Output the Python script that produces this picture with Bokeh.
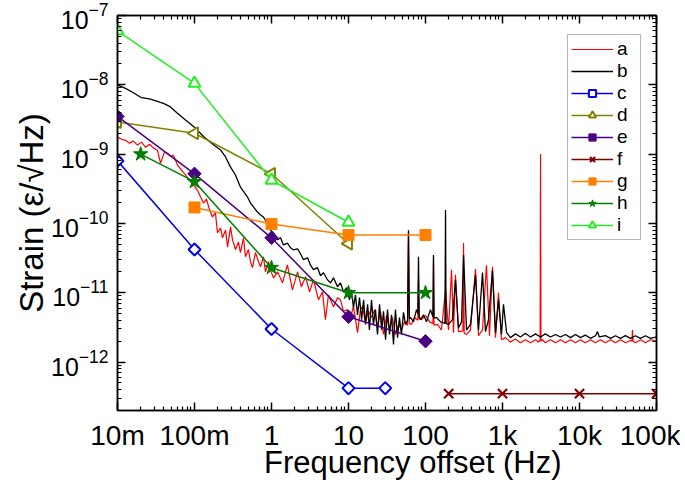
import math
from bokeh.plotting import figure
from bokeh.models import LogAxis, FixedTicker, CustomJSTickFormatter, Legend, LegendItem, Range1d
from bokeh.embed import file_html
from bokeh.resources import INLINE

# ---------------- data ----------------
x_tick_values = [0.01, 0.1, 1, 10, 100, 1000, 10000, 100000]
x_tick_labels = ["10m", "100m", "1", "10", "100", "1k", "10k", "100k"]
y_tick_values = [1e-12, 1e-11, 1e-10, 1e-9, 1e-8, 1e-7]

a_freq = [0.01, 0.0113, 0.0127, 0.0143, 0.0161, 0.0182, 0.0205, 0.0231, 0.0261, 0.0294,
          0.033, 0.0362, 0.0407, 0.0445, 0.0488, 0.0533, 0.0601, 0.0678, 0.0764, 0.0861,
          0.097, 0.109, 0.12, 0.131, 0.143, 0.157, 0.171, 0.187, 0.199, 0.218,
          0.231, 0.253, 0.269, 0.294, 0.312, 0.341, 0.372, 0.395, 0.433, 0.459,
          0.502, 0.533, 0.566, 0.619, 0.678, 0.72, 0.787, 0.835, 0.914, 0.97,
          1.06, 1.2, 1.39, 1.61, 1.87, 2.18, 2.45, 2.77, 3.12, 3.51,
          4.08, 4.59, 5.02, 5.5, 6.38, 7.2, 7.87, 8.61, 9.7, 10.6,
          11.6, 13.1, 14.3, 15.2, 16.6, 18.2, 19.9, 21.8, 23.8, 26.1,
          28.5, 31.2, 34.1, 37.2, 40.7, 44.6, 48.7, 53.3, 58.5, 60.1,
          61.7, 65.8, 71.9, 79.5, 81.1, 82.7, 88.7, 100, 113, 125,
          127, 129, 143, 161, 182, 199, 218, 231, 245, 268,
          306, 312, 318, 341, 384, 446, 488, 550, 619, 678,
          741, 811, 887, 970, 1090, 1270, 1470, 1710, 1980, 2310,
          2680, 2940, 3080, 3120, 3160, 3310, 3600, 4200, 4870, 5660,
          6570, 7640, 8870, 10300, 11900, 13900, 16100, 18700, 21700, 25300,
          29300, 34000, 39500, 46000, 48000, 48800, 49600, 53300, 61900, 71900,
          83500, 100000]
a_strain = [1.76e-9, 1.64e-9, 1.58e-9, 1.44e-9, 1.54e-9, 1.35e-9, 1.49e-9, 1.26e-9, 1.39e-9, 1.22e-9,
            1.14e-9, 7.4e-10, 1.07e-9, 1.03e-9, 9.3e-10, 9.6e-10, 6.95e-10, 5.9e-10, 5.0e-10, 4.2e-10,
            3.6e-10, 3.03e-10, 2.4e-10, 1.97e-10, 2.25e-10, 1.56e-10, 1.24e-10, 1.42e-10, 7.3e-11, 8.6e-11,
            6.2e-11, 8.0e-11, 4.6e-11, 8.9e-11, 5.8e-11, 4.2e-11, 5.4e-11, 3.8e-11, 6.2e-11, 3.3e-11,
            4.2e-11, 2.8e-11, 2.3e-11, 3.8e-11, 2.8e-11, 2.37e-11, 3.3e-11, 2.0e-11, 2.8e-11, 2.14e-11,
            1.64e-11, 2.0e-11, 1.39e-11, 2.53e-11, 1.1e-11, 2.0e-11, 1.22e-11, 1.7e-11, 1.03e-11, 1.54e-11,
            7.9e-12, 1.03e-11, 4.1e-12, 9.3e-12, 6.3e-12, 8.5e-12, 7.9e-12, 5.4e-12, 5.7e-12, 4.4e-12,
            6.3e-12, 2.66e-12, 5.7e-12, 6.3e-12, 3.7e-12, 5.4e-12, 4.4e-12, 5.7e-12, 3.15e-12, 5.4e-12,
            2.5e-12, 4.7e-12, 2.9e-12, 4.4e-12, 2.5e-12, 3.5e-12, 2.9e-12, 3.8e-12, 3.4e-12, 7.5e-11,
            3.6e-12, 3.5e-12, 4.4e-12, 4.0e-12, 1.64e-11, 4.2e-12, 4.1e-12, 4.7e-12, 3.8e-12, 3.6e-12,
            3.2e-11, 3.4e-12, 3.5e-12, 2.9e-12, 1.1e-11, 2.9e-12, 2.14e-11, 2.65e-12, 1.82e-11, 2.75e-12,
            2.8e-12, 5.2e-11, 2.6e-12, 2.5e-12, 2.9e-12, 2.2e-11, 2.4e-12, 2.9e-12, 2.5e-11, 2.4e-12,
            2.37e-11, 2.25e-12, 1.0e-11, 2.1e-12, 2.25e-12, 1.95e-12, 2.15e-12, 1.9e-12, 2.1e-12, 1.9e-12,
            2.1e-12, 1.95e-12, 2.05e-12, 1.0e-9, 2.0e-12, 2.1e-12, 1.9e-12, 2.1e-12, 1.9e-12, 2.1e-12,
            1.9e-12, 2.1e-12, 1.9e-12, 2.1e-12, 1.9e-12, 2.1e-12, 1.9e-12, 2.1e-12, 1.9e-12, 2.1e-12,
            1.9e-12, 2.1e-12, 1.9e-12, 2.05e-12, 2.0e-12, 2.9e-12, 2.0e-12, 1.9e-12, 2.1e-12, 1.9e-12,
            2.1e-12, 2.0e-12]

b_freq = [0.01, 0.0127, 0.0157, 0.020, 0.0268, 0.0395, 0.0488, 0.060, 0.0764, 0.1,
          0.131, 0.161, 0.187, 0.218, 0.253, 0.294, 0.34, 0.395, 0.446, 0.488,
          0.533, 0.583, 0.658, 0.72, 0.787, 0.887, 0.97, 1.06, 1.2, 1.31,
          1.43, 1.61, 1.77, 1.93, 2.18, 2.38, 2.6, 2.94, 3.21, 3.51,
          3.96, 4.33, 4.73, 5.33, 5.83, 6.38, 7.2, 7.87, 8.61, 9.42,
          10.3, 10.9, 11.6, 12.3, 13.1, 13.9, 14.8, 15.7, 16.6, 17.7,
          18.7, 19.9, 21.1, 22.4, 23.8, 25.3, 26.9, 28.5, 30.3, 32.1,
          34.1, 36.2, 38.4, 40.7, 43.3, 45.9, 48.7, 51.8, 55.0, 58.5,
          60.1, 61.7, 63.8, 69.8, 76.4, 79.5, 81.1, 82.7, 86.1, 94.2,
          103, 116, 125, 127, 129, 139, 157, 179, 182, 185,
          199, 224, 245, 268, 294, 312, 341, 384, 446, 488,
          550, 601, 658, 741, 811, 887, 970, 1030, 1130, 1270,
          1475, 1710, 1980, 2310, 2680, 3120, 3600, 4200, 4870, 5660,
          6570, 7640, 8870, 10300, 11900, 13900, 16100, 17100, 18100, 21700,
          25300, 29300, 34000, 39500, 45900, 53300, 61900, 71900, 83500, 100000]
b_strain = [1.0e-8, 8.9e-9, 7.8e-9, 6.6e-9, 6.2e-9, 5.4e-9, 4.8e-9, 3.9e-9, 3.1e-9, 2.45e-9,
            1.8e-9, 1.48e-9, 1.3e-9, 1.15e-9, 9.1e-10, 6.5e-10, 5.0e-10, 3.35e-10, 2.75e-10, 2.4e-10,
            1.97e-10, 1.73e-10, 1.46e-10, 1.32e-10, 1.24e-10, 9.8e-11, 8.05e-11, 7.3e-11, 5.8e-11, 6.2e-11,
            4.9e-11, 5.2e-11, 4.45e-11, 4.15e-11, 4.3e-11, 3.65e-11, 3.0e-11, 3.2e-11, 2.5e-11, 2.15e-11,
            2.3e-11, 1.76e-11, 1.94e-11, 1.54e-11, 1.39e-11, 1.64e-11, 1.22e-11, 1.39e-11, 1.03e-11, 1.18e-11,
            7.9e-12, 1.1e-11, 6.1e-12, 9.3e-12, 4.8e-12, 8.5e-12, 4.1e-12, 7.9e-12, 3.5e-12, 6.8e-12,
            2.9e-12, 7.9e-12, 3.5e-12, 5.7e-12, 2.5e-12, 6.8e-12, 2.9e-12, 5.4e-12, 2.1e-12, 5.7e-12,
            2.5e-12, 4.8e-12, 1.8e-12, 5.7e-12, 2.25e-12, 4.4e-12, 2.5e-12, 5.2e-12, 3.5e-12, 4.0e-12,
            8.0e-11, 4.2e-12, 4.4e-12, 3.8e-12, 5.7e-12, 5.0e-12, 3.3e-11, 4.6e-12, 4.1e-12, 4.8e-12,
            3.8e-12, 5.7e-12, 4.5e-12, 3.5e-11, 4.3e-12, 4.4e-12, 3.8e-12, 3.6e-12, 1.56e-10, 3.6e-12,
            3.5e-12, 4.1e-12, 1.54e-11, 3.1e-12, 3.8e-12, 3.5e-11, 2.9e-12, 3.5e-12, 1.8e-11, 2.9e-12,
            1.95e-11, 2.75e-12, 4.1e-12, 2.1e-11, 2.65e-12, 7.9e-12, 2.5e-12, 6.8e-12, 2.65e-12, 2.25e-12,
            2.55e-12, 2.3e-12, 2.6e-12, 2.3e-12, 2.55e-12, 2.3e-12, 2.55e-12, 2.3e-12, 2.5e-12, 2.3e-12,
            2.5e-12, 2.25e-12, 2.5e-12, 2.25e-12, 2.45e-12, 2.2e-12, 2.4e-12, 2.75e-12, 2.3e-12, 2.4e-12,
            2.2e-12, 2.4e-12, 2.2e-12, 2.4e-12, 2.2e-12, 2.4e-12, 2.2e-12, 2.4e-12, 2.2e-12, 2.3e-12]

c_freq = [0.01, 0.1, 1, 10, 30]
c_strain = [8.0e-10, 4.2e-11, 3.0e-12, 4.2e-13, 4.2e-13]
d_freq = [0.01, 0.1, 1, 10]
d_strain = [2.9e-9, 2.0e-9, 5.2e-10, 5.1e-11]
e_freq = [0.01, 0.1, 1, 10, 100]
e_strain = [3.5e-9, 5.2e-10, 6.2e-11, 4.5e-12, 2.0e-12]
f_freq = [200, 1000, 10000, 100000]
f_strain = [3.5e-13, 3.5e-13, 3.5e-13, 3.5e-13]
g_freq = [0.1, 1, 10, 100]
g_strain = [1.7e-10, 9.8e-11, 6.8e-11, 6.8e-11]
h_freq = [0.02, 0.1, 1, 10, 100]
h_strain = [1.0e-9, 4.0e-10, 2.3e-11, 1.0e-11, 1.0e-11]
i_freq = [0.01, 0.1, 1, 10]
i_strain = [6.0e-8, 1.05e-8, 4.2e-10, 1.04e-10]

FONT = "Liberation Sans"

p = figure(frame_width=539, frame_height=395, x_axis_type="log", y_axis_type="log",
           x_range=Range1d(0.01, 1e5), y_range=Range1d(2e-13, 1e-7),
           output_backend="svg", toolbar_location=None,
           min_border_left=117, min_border_right=24, min_border_top=15, min_border_bottom=70)
p.grid.visible = False
p.outline_line_color = "black"
p.outline_line_width = 1.5
p.background_fill_color = "white"
p.border_fill_color = "white"

x_minor = [m * d for d in x_tick_values[:-1] for m in range(2, 10)]
y_minor = [m * d for d in [1e-13] + y_tick_values[:-1] for m in range(2, 10)]
xt = FixedTicker(ticks=x_tick_values, minor_ticks=x_minor)
yt = FixedTicker(ticks=y_tick_values, minor_ticks=y_minor)

def style_axis(ax):
    ax.major_tick_in = 8
    ax.major_tick_out = 0
    ax.minor_tick_in = 4
    ax.minor_tick_out = 0
    ax.major_tick_line_width = 1.5
    ax.minor_tick_line_width = 1.2
    ax.axis_line_width = 1.5
    ax.major_tick_line_color = "black"
    ax.minor_tick_line_color = "black"
    ax.axis_line_color = "black"
    ax.major_label_text_font = FONT
    ax.major_label_text_color = "black"
    ax.axis_label_text_font = FONT
    ax.axis_label_text_font_style = "normal"
    ax.axis_label_text_color = "black"

xa = p.xaxis[0]
xa.ticker = xt
xa.formatter = CustomJSTickFormatter(args=dict(vals=x_tick_values, labels=x_tick_labels), code="""
    for (let k = 0; k < vals.length; k++) {
        if (Math.abs(Math.log10(vals[k]) - Math.log10(tick)) < 1e-6) return labels[k];
    }
    return "";
""")
style_axis(xa)
xa.major_label_text_font_size = "28px"
xa.major_label_standoff = 9
xa.axis_label = "\u00a0" * 6 + "Frequency offset (Hz)"
xa.axis_label_text_font_size = "31px"
xa.axis_label_standoff = -9

ya = p.yaxis[0]
ya.ticker = yt
style_axis(ya)
ya.major_label_text_font_size = "25px"
ya.major_label_standoff = 9
ya.axis_label = "Strain (ε/√Hz)"
ya.axis_label_text_font_size = "33px"
ya.axis_label_standoff = -2

blank = CustomJSTickFormatter(code="return '';")

top = LogAxis(ticker=xt, formatter=blank)
style_axis(top)
top.major_label_standoff = 0
p.add_layout(top, "above")

right = LogAxis(ticker=yt, formatter=blank)
style_axis(right)
right.major_label_standoff = 0
p.add_layout(right, "right")

items = []
ra = p.line(a_freq, a_strain, line_color="#ff0000", line_width=1.2)
items.append(LegendItem(label="a", renderers=[ra]))
rb = p.line(b_freq, b_strain, line_color="#000000", line_width=1.3)
items.append(LegendItem(label="b", renderers=[rb]))

specs = [
    ("c", c_freq, c_strain, "#0000ee", "square", math.pi / 4, 8.5, "white", 2.0),
    ("d", d_freq, d_strain, "#808000", "triangle", math.pi / 2, 12, "white", 2.0),
    ("e", e_freq, e_strain, "#4b0082", "square", math.pi / 4, 9.5, "#4b0082", 1.0),
    ("f", f_freq, f_strain, "#800000", "x", 0.0, 13, "#800000", 2.2),
    ("g", g_freq, g_strain, "#ff8000", "square", 0.0, 11, "#ff8000", 1.0),
    ("h", h_freq, h_strain, "#007f00", "star", 0.0, 15, "#007f00", 1.0),
    ("i", i_freq, i_strain, "#22ee22", "triangle", 0.0, 12, "white", 2.0),
]
for name, fx, fy, col, mk, ang, sz, fill, mlw in specs:
    rl = p.line(fx, fy, line_color=col, line_width=1.5)
    rs = p.scatter(fx, fy, marker=mk, angle=ang, size=sz, line_color=col,
                   fill_color=fill, line_width=mlw)
    items.append(LegendItem(label=name, renderers=[rl, rs]))

legend = Legend(items=items, location=(450, 170))
legend.label_text_font = FONT
legend.label_text_font_size = "19px"
legend.label_text_color = "black"
legend.label_standoff = 4
legend.glyph_width = 42
legend.glyph_height = 18
legend.label_height = 18
legend.spacing = 0
legend.padding = 3
legend.margin = 0
legend.border_line_color = "#707070"
legend.border_line_width = 1.2
legend.background_fill_alpha = 1.0
p.add_layout(legend, "center")

open("out.html", "w").write(file_html(p, INLINE))
